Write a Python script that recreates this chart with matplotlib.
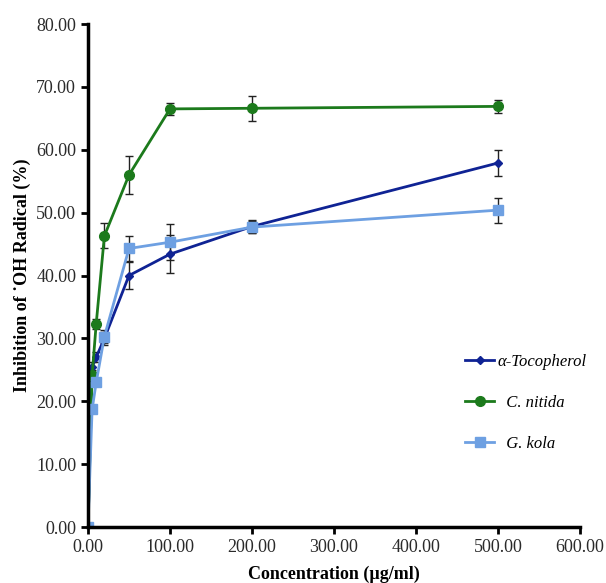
import matplotlib
matplotlib.use("Agg")
import matplotlib.pyplot as plt

# Données
conc = [0, 5, 10, 20, 50, 100, 200, 500]

toco = [0.0, 25.5, 27.0, 30.0, 40.0, 43.4, 47.8, 57.9]
toco_err = [0.0, 0.8, 0.8, 1.0, 2.1, 3.0, 1.0, 2.0]

nitida = [0.0, 24.1, 32.3, 46.3, 56.0, 66.5, 66.6, 66.9]
nitida_err = [0.0, 0.8, 0.8, 2.0, 3.0, 1.0, 2.0, 1.0]

kola = [0.0, 18.7, 23.0, 30.3, 44.3, 45.3, 47.7, 50.4]
kola_err = [0.0, 0.6, 0.6, 1.0, 2.0, 2.9, 1.0, 2.0]

x_ticks = [0, 100, 200, 300, 400, 500, 600]
y_ticks = [0, 10, 20, 30, 40, 50, 60, 70, 80]

plt.rcParams['font.family'] = ['Liberation Serif', 'DejaVu Serif']

fig = plt.figure(figsize=(6.06, 5.83), dpi=100)
ax = fig.add_axes([0.1452, 0.096, 0.812, 0.8628])

series = [
    (toco, toco_err, '#0f2394', 'D', 4, 'α-Tocopherol'),
    (nitida, nitida_err, '#1c7a1c', 'o', 7, '  C. nitida'),
    (kola, kola_err, '#6ea0e2', 's', 7, '  G. kola'),
]
for vals, err, col, mk, ms, lab in series:
    ax.errorbar(conc, vals, yerr=err, color=col, marker=mk, markersize=ms,
                linewidth=2, ecolor='#222222', elinewidth=1, capsize=3,
                capthick=1, label=lab)

ax.set_xlim(0, 600)
ax.set_ylim(0, 80)
ax.set_xticks(x_ticks)
ax.set_yticks(y_ticks)
ax.set_xticklabels([f"{v:.2f}" for v in x_ticks])
ax.set_yticklabels([f"{v:.2f}" for v in y_ticks])
ax.tick_params(labelsize=13, labelcolor='#2a2a2a', width=2, length=5,
               direction='out')

for s in ['top', 'right']:
    ax.spines[s].set_visible(False)
for s in ['left', 'bottom']:
    ax.spines[s].set_linewidth(2.5)

ax.set_xlabel('Concentration (µg/ml)', fontsize=13, fontweight='bold', labelpad=7)
ax.set_ylabel('Inhibition of \u02d9OH Radical (%)', fontsize=13,
              fontweight='bold', labelpad=4)

handles, labels = ax.get_legend_handles_labels()
handles = [h[0] for h in handles]
leg = ax.legend(handles, labels, loc='upper left', bbox_to_anchor=(0.768, 0.393),
                bbox_transform=fig.transFigure, borderpad=0, borderaxespad=0,
                frameon=False, labelspacing=1.5, handlelength=1.7,
                handletextpad=0.25, prop={'style': 'italic', 'size': 12})

fig.savefig('out.png', dpi=100)
